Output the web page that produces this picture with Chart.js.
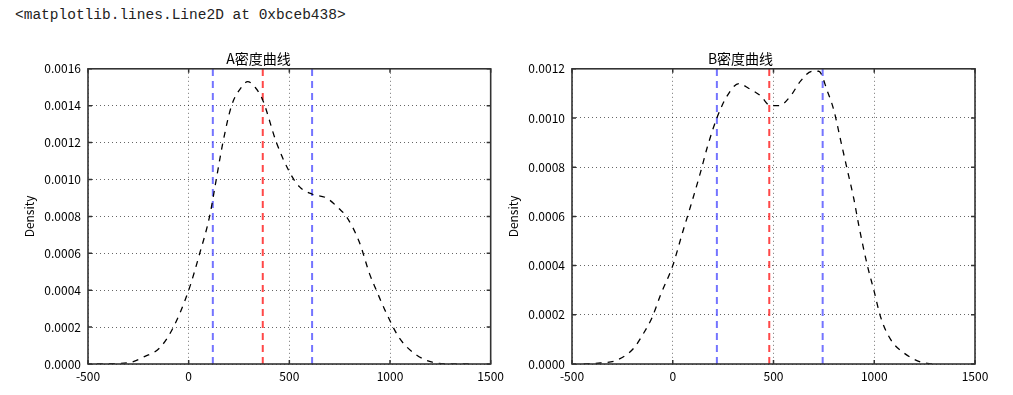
<!DOCTYPE html>
<html>
<head>
<meta charset="utf-8">
<script src="https://cdn.jsdelivr.net/npm/chart.js@4"></script>
<style>
    body { margin: 0; background: #fff; width: 1013px; height: 395px; overflow: hidden; position: relative; }
    #header { position: absolute; left: 15px; top: 7px; font-family: "Liberation Mono", monospace; font-size: 14.5px; color: #222; white-space: pre; }
    .box { position: absolute; top: 0; height: 395px; }
    #boxA { left: 0; width: 509px; }
    #boxB { left: 506px; width: 507px; }
</style>
</head>
<body>
<div id="header">&lt;matplotlib.lines.Line2D at 0xbceb438&gt;</div>
<div class="box" id="boxA"><canvas id="chartA"></canvas></div>
<div class="box" id="boxB"><canvas id="chartB"></canvas></div>
<script>
// A 的密度曲线 (x, density)
const aX = [-456, -380, -293, -220, -144, -78, 0, 55, 104, 137, 170, 213, 262, 293, 330, 368, 436, 501, 551, 615, 684, 749, 783, 848, 898, 932, 980, 1047, 1130, 1210, 1300, 1394];
const aDensity = [0, 0.000002, 0.000008, 0.00004, 0.000087, 0.000195, 0.0004, 0.0006, 0.0008, 0.001, 0.0012, 0.0014, 0.0015, 0.00153, 0.0015, 0.00143, 0.0012, 0.00104, 0.00096, 0.00092, 0.0009, 0.00084, 0.0008, 0.00066, 0.00049, 0.0004, 0.00028, 0.00014, 0.00005, 0.00001, 0.000001, 0];
// 四分位数与中位数
const aQuartiles = [120, 613];
const aMedian = 368;

// B 的密度曲线
const bX = [-442, -359, -276, -194, -144, -102, -61, 0, 47, 88, 138, 171, 219, 270, 328, 378, 436, 485, 527, 585, 634, 693, 725, 767, 800, 833, 866, 899, 924, 966, 998, 1032, 1081, 1147, 1230, 1295];
const bDensity = [0, 0.000004, 0.000016, 0.000064, 0.000126, 0.00019, 0.00028, 0.0004, 0.00053, 0.00064, 0.00078, 0.00088, 0.001, 0.00109, 0.00114, 0.00112, 0.00109, 0.00105, 0.00105, 0.00109, 0.00115, 0.00119, 0.00119, 0.00111, 0.00103, 0.00091, 0.00079, 0.00067, 0.00056, 0.0004, 0.0003, 0.00019, 0.0001, 0.000045, 0.000008, 0];
const bQuartiles = [219, 744];
const bMedian = 479;

const xTicks = [-500, 0, 500, 1000, 1500];

const FONT = '"Noto Sans CJK JP", "Noto Sans CJK SC", sans-serif';

// 边框和向内的刻度线
const framePlugin = {
    id: 'frame',
    afterDraw(chart) {
        const { ctx, chartArea: a, scales } = chart;
        ctx.save();
        ctx.strokeStyle = '#333';
        ctx.lineWidth = 1.5;
        ctx.setLineDash([]);
        ctx.beginPath();
        scales.x.ticks.forEach(t => {
            const px = scales.x.getPixelForValue(t.value);
            ctx.moveTo(px, a.bottom); ctx.lineTo(px, a.bottom - 4);
            ctx.moveTo(px, a.top); ctx.lineTo(px, a.top + 4);
        });
        scales.y.ticks.forEach(t => {
            const py = scales.y.getPixelForValue(t.value);
            ctx.moveTo(a.left, py); ctx.lineTo(a.left + 4, py);
            ctx.moveTo(a.right, py); ctx.lineTo(a.right - 4, py);
        });
        ctx.stroke();
        ctx.lineWidth = 1.6;
        ctx.strokeRect(a.left, a.top, a.right - a.left, a.bottom - a.top);
        ctx.restore();
    }
};

function vLine(x, yMax, color, width) {
    return {
        data: [{ x: x, y: 0 }, { x: x, y: yMax }],
        borderColor: color,
        borderWidth: width,
        borderDash: [7, 5],
        pointRadius: 0,
        fill: false
    };
}

function makeChart(id, title, xs, ys, quartiles, median, yMax, padLeft, yWidth, padRight) {
    const curve = xs.map((x, i) => ({ x: x, y: ys[i] }));
    return new Chart(document.getElementById(id), {
        type: 'line',
        data: {
            datasets: [
                {
                    data: curve,
                    borderColor: '#000',
                    borderWidth: 1.3,
                    borderDash: [6, 6],
                    pointRadius: 0,
                    cubicInterpolationMode: 'monotone',
                    fill: false
                },
                vLine(quartiles[0], yMax, 'rgba(70, 70, 255, 0.75)', 2),
                vLine(median, yMax, 'rgba(255, 40, 40, 0.85)', 2),
                vLine(quartiles[1], yMax, 'rgba(70, 70, 255, 0.75)', 2)
            ]
        },
        options: {
            responsive: true,
            maintainAspectRatio: false,
            animation: false,
            layout: { padding: { top: 50, left: padLeft, right: padRight, bottom: 0 } },
            plugins: {
                legend: { display: false },
                tooltip: { enabled: false },
                title: {
                    display: true,
                    text: title,
                    color: '#000',
                    font: { family: FONT, size: 14, weight: 'normal' },
                    padding: { top: 0, bottom: 2 }
                }
            },
            scales: {
                x: {
                    type: 'linear',
                    min: -500,
                    max: 1500,
                    afterBuildTicks: s => { s.ticks = xTicks.map(v => ({ value: v })); },
                    ticks: {
                        color: '#000',
                        font: { family: FONT, size: 12 },
                        padding: 5,
                        maxRotation: 0,
                        callback: v => String(v)
                    },
                    grid: { color: 'rgba(0,0,0,0.55)', lineWidth: 1, drawTicks: false },
                    border: { display: false, dash: [1, 3] },
                    afterFit: s => { s.height = 31; }
                },
                y: {
                    min: 0,
                    max: yMax,
                    ticks: {
                        stepSize: 0.0002,
                        color: '#000',
                        font: { family: FONT, size: 12 },
                        padding: 7,
                        callback: v => v.toFixed(4)
                    },
                    grid: { color: 'rgba(0,0,0,0.6)', lineWidth: 1, drawTicks: false },
                    border: { display: false, dash: [1, 3] },
                    title: {
                        display: true,
                        text: 'Density',
                        color: '#000',
                        font: { family: FONT, size: 12 },
                        padding: 0
                    },
                    afterFit: s => { s.width = yWidth; }
                }
            }
        },
        plugins: [framePlugin]
    });
}

makeChart('chartA', 'A密度曲线', aX, aDensity, aQuartiles, aMedian, 0.0016, 22, 66, 14);
makeChart('chartB', 'B密度曲线', bX, bDensity, bQuartiles, bMedian, 0.0012, 0, 66, 38);
</script>
</body>
</html>
